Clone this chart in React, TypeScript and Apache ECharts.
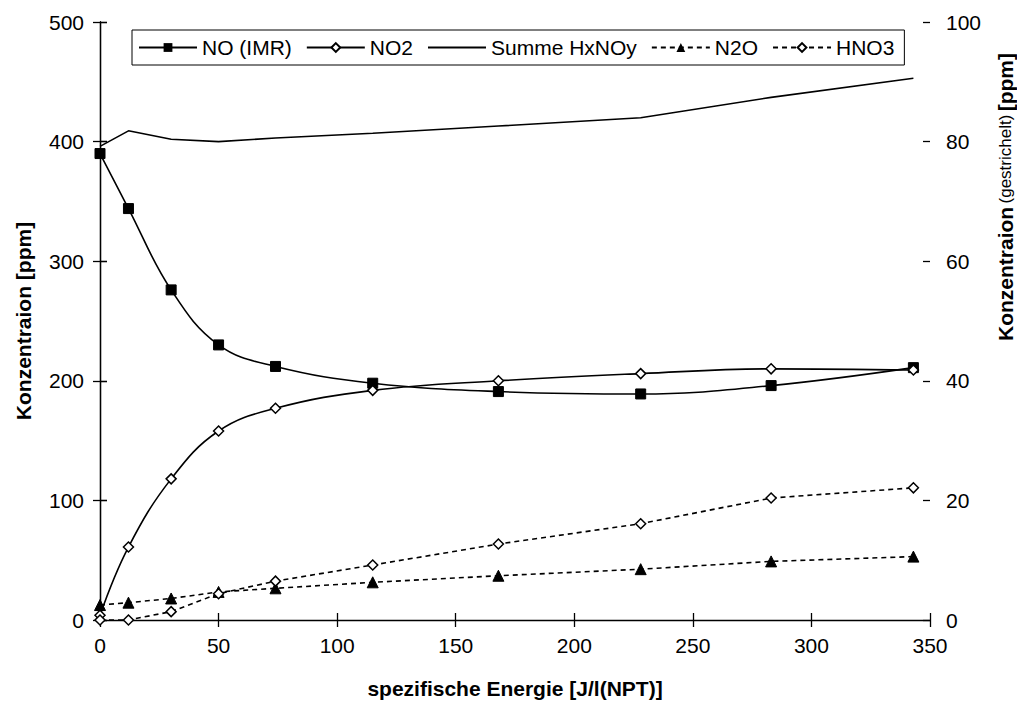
import React, { useEffect, useRef } from "react";
import * as echarts from "echarts";

// Specific energy [J/l(NPT)]
const energy = [0, 12, 30, 50, 74, 115, 168, 228, 283, 343];
// Left axis series [ppm]
const noImr = [390, 344, 276, 230, 212, 198, 191, 189, 196, 211];
const no2 = [4, 61, 118, 158, 177, 192, 200, 206, 210, 209];
const summeHxNOy = [396, 409, 402, 400, 403, 407, 413, 420, 437, 453];
// Right axis series (dashed) [ppm]
const n2o = [2.5, 2.9, 3.6, 4.7, 5.3, 6.3, 7.4, 8.5, 9.8, 10.6];
const hno3 = [0, 0, 1.4, 4.4, 6.5, 9.2, 12.7, 16.1, 20.4, 22.1];

const pairs = (ys: number[]) => energy.map((x, i) => [x, ys[i]]);

const FONT = "Liberation Sans, Arial, sans-serif";
const BLACK = "#000";

export default function App() {
  const ref = useRef<HTMLDivElement>(null);

  useEffect(() => {
    if (!ref.current) return;
    const chart = echarts.init(ref.current, undefined, { renderer: "svg" });

    const tickLabel = { color: BLACK, fontSize: 21, fontFamily: FONT };
    const axisLine = { show: true, lineStyle: { color: BLACK, width: 1.3 } };
    const tick = { show: true, length: 7, lineStyle: { color: BLACK, width: 1.3 } };

    chart.setOption({
      animation: false,
      backgroundColor: "#fff",
      textStyle: { fontFamily: FONT },
      grid: { left: 100, right: 87, top: 22, bottom: 87 },
      legend: {
        left: 132,
        top: 30,
        borderColor: BLACK,
        borderWidth: 1,
        padding: [7, 10, 7, 6],
        itemWidth: 58,
        itemHeight: 11,
        itemGap: 14,
        textStyle: { color: BLACK, fontSize: 21, fontFamily: FONT },
        data: [
          "NO (IMR)",
          "NO2",
          // plain line in the key, no marker
          { name: "Summe HxNOy", itemStyle: { opacity: 0 } },
          "N2O",
          "HNO3",
        ],
      },
      // right-hand axis title, placed in the upper half next to the scale
      graphic: [
        {
          type: "text",
          x: 1005,
          y: 197,
          rotation: Math.PI / 2,
          style: {
            text: "{b|Konzentraion} {s|(gestrichelt)} {b|[ppm]}",
            align: "center",
            verticalAlign: "middle",
            fill: BLACK,
            fontFamily: FONT,
            rich: {
              b: { fontSize: 21, fontWeight: "bold", fill: BLACK, fontFamily: FONT },
              s: { fontSize: 17, fill: BLACK, fontFamily: FONT },
            },
          },
        },
      ],
      xAxis: [
        {
          type: "value",
          min: 0,
          max: 350,
          interval: 50,
          position: "bottom",
          axisLine,
          axisTick: tick,
          splitLine: { show: false },
          axisLabel: { ...tickLabel, margin: 15 },
          name: "spezifische Energie [J/l(NPT)]",
          nameLocation: "middle",
          nameGap: 58,
          nameTextStyle: { color: BLACK, fontSize: 21, fontWeight: "bold", fontFamily: FONT },
        },
        {
          type: "value",
          min: 0,
          max: 350,
          interval: 50,
          position: "bottom",
          axisLine: { show: false },
          axisTick: { ...tick, inside: true },
          axisLabel: { show: false },
          splitLine: { show: false },
        },
      ],
      yAxis: [
        {
          type: "value",
          min: 0,
          max: 500,
          interval: 100,
          position: "left",
          axisLine,
          axisTick: tick,
          splitLine: { show: false },
          axisLabel: { ...tickLabel, margin: 16 },
          name: "Konzentraion [ppm]",
          nameLocation: "middle",
          nameGap: 66,
          nameTextStyle: { color: BLACK, fontSize: 21, fontWeight: "bold", fontFamily: FONT },
        },
        {
          type: "value",
          min: 0,
          max: 100,
          interval: 20,
          position: "right",
          axisLine,
          axisTick: tick,
          splitLine: { show: false },
          axisLabel: { ...tickLabel, margin: 16 },
        },
        {
          type: "value",
          min: 0,
          max: 500,
          interval: 100,
          position: "left",
          axisLine: { show: false },
          axisTick: { ...tick, inside: true },
          axisLabel: { show: false },
          splitLine: { show: false },
        },
        {
          type: "value",
          min: 0,
          max: 100,
          interval: 20,
          position: "right",
          axisLine: { show: false },
          axisTick: { ...tick, inside: true },
          axisLabel: { show: false },
          splitLine: { show: false },
        },
      ],
      series: [
        {
          name: "NO (IMR)",
          type: "line",
          xAxisIndex: 0,
          yAxisIndex: 0,
          data: pairs(noImr),
          smooth: 0.4,
          symbol: "rect",
          symbolSize: 10,
          lineStyle: { color: BLACK, width: 1.6 },
          itemStyle: { color: BLACK, borderColor: BLACK },
          z: 4,
        },
        {
          name: "NO2",
          type: "line",
          xAxisIndex: 0,
          yAxisIndex: 0,
          data: pairs(no2),
          smooth: 0.4,
          symbol: "diamond",
          symbolSize: 10,
          showAllSymbol: true,
          lineStyle: { color: BLACK, width: 1.6 },
          itemStyle: { color: "#fff", borderColor: BLACK, borderWidth: 1.5 },
          z: 5,
        },
        {
          name: "Summe HxNOy",
          type: "line",
          xAxisIndex: 0,
          yAxisIndex: 0,
          data: pairs(summeHxNOy),
          symbol: "none",
          lineStyle: { color: BLACK, width: 1.6 },
          itemStyle: { color: BLACK },
        },
        {
          name: "N2O",
          type: "line",
          xAxisIndex: 0,
          yAxisIndex: 1,
          data: pairs(n2o),
          symbol: "triangle",
          symbolSize: 11,
          lineStyle: { color: BLACK, width: 1.6, type: [5, 4] },
          itemStyle: { color: BLACK, borderColor: BLACK },
          z: 4,
        },
        {
          name: "HNO3",
          type: "line",
          xAxisIndex: 0,
          yAxisIndex: 1,
          data: pairs(hno3),
          symbol: "diamond",
          symbolSize: 10,
          lineStyle: { color: BLACK, width: 1.6, type: [5, 4] },
          itemStyle: { color: "#fff", borderColor: BLACK, borderWidth: 1.5 },
          z: 5,
        },
      ],
    });

    return () => chart.dispose();
  }, []);

  return (
    <div
      ref={ref}
      style={{ position: "fixed", left: 0, top: 0, width: 1017, height: 707, background: "#fff" }}
    />
  );
}
